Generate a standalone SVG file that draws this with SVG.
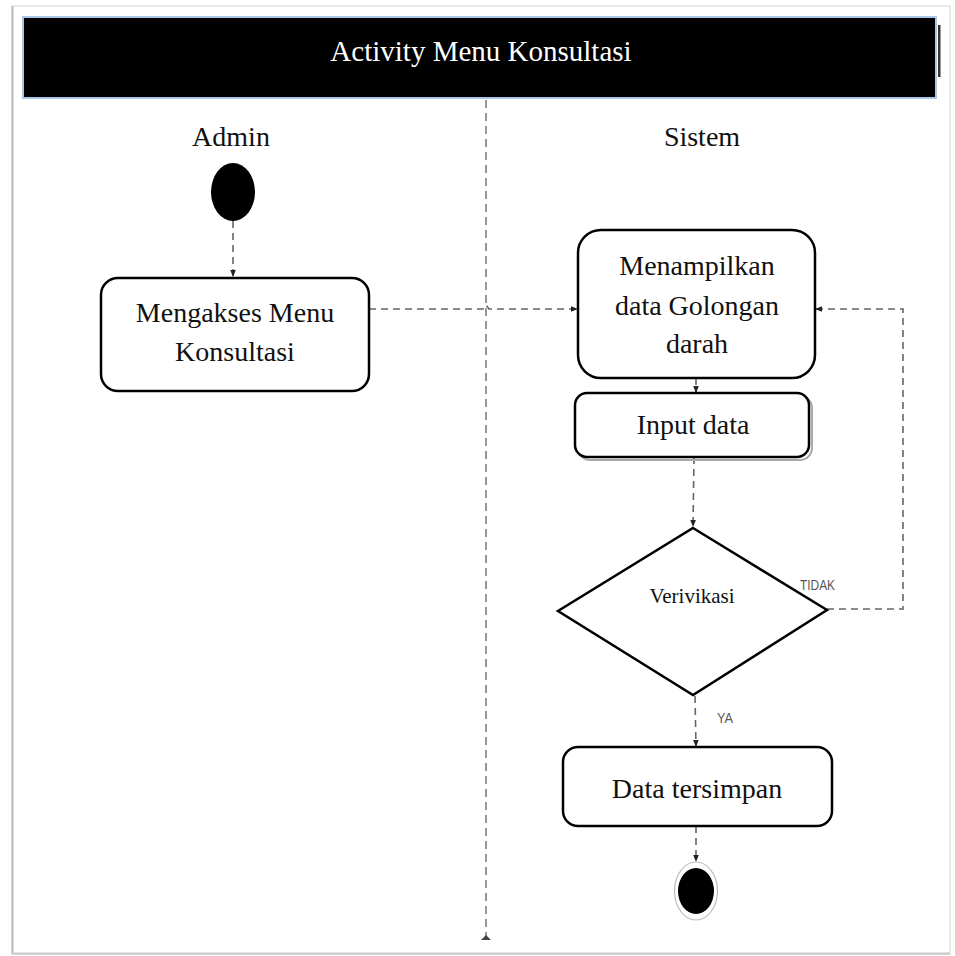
<svg xmlns="http://www.w3.org/2000/svg" width="955" height="956" viewBox="0 0 955 956">
  <style>
    .lbl { font-family: "Liberation Serif", "Times New Roman", serif; fill: #111; text-anchor: middle; }
    .node { fill: #fff; stroke: #000; stroke-width: 2.5; }
    .flow { fill: none; stroke: #666; stroke-width: 1.6; stroke-dasharray: 7 5; }
    .guard { font-family: "Liberation Sans", Arial, sans-serif; font-size: 14px; fill: #555; }
  </style>
  <defs>
    <marker id="arrow" viewBox="0 0 10 10" refX="10" refY="5" markerWidth="7" markerHeight="7" orient="auto" markerUnits="userSpaceOnUse">
      <path d="M0,1 L10,5 L0,9 Z" fill="#222"/>
    </marker>
  </defs>

  <!-- page -->
  <rect x="0" y="0" width="955" height="956" fill="#fff"/>
  <rect x="12" y="6" width="938" height="948" fill="#fff" stroke="#e2e2e2" stroke-width="1.5"/>
  <line x1="12.5" y1="6" x2="12.5" y2="954" stroke="#bdbdbd" stroke-width="2"/>
  <line x1="12" y1="953.5" x2="950" y2="953.5" stroke="#c8c8c8" stroke-width="2"/>

  <!-- header -->
  <g id="header">
    <rect x="23" y="17" width="913" height="81" fill="#000" stroke="#a9c8e8" stroke-width="2"/>
    <rect x="938" y="25" width="2.5" height="52" fill="#333"/>
    <text x="481" y="61" font-family="Liberation Serif, 'Times New Roman', serif" font-size="29" fill="#fff" text-anchor="middle">Activity Menu Konsultasi</text>
  </g>

  <!-- swimlanes -->
  <g id="lanes">
    <line x1="486" y1="100" x2="486" y2="938" stroke="#777" stroke-width="1.5" stroke-dasharray="8 5"/>
    <path d="M481,940 L491,940 L486,935 Z" fill="#444"/>
    <text class="lbl" x="231" y="146" font-size="28">Admin</text>
    <text class="lbl" x="702" y="146" font-size="28">Sistem</text>
  </g>

  <!-- connectors -->
  <g id="connectors">
    <line class="flow" x1="233" y1="221" x2="233" y2="277" marker-end="url(#arrow)"/>
    <path class="flow" d="M369,309 L483,309 L486,305 L489,309 L578,309" marker-end="url(#arrow)"/>
    <line class="flow" x1="696" y1="378" x2="696" y2="393" marker-end="url(#arrow)"/>
    <line class="flow" x1="694" y1="457" x2="693" y2="527" marker-end="url(#arrow)"/>
    <path class="flow" d="M827,609 L903,609 L903,309 L815,309" marker-end="url(#arrow)"/>
    <line class="flow" x1="695" y1="696" x2="696" y2="747" marker-end="url(#arrow)"/>
    <line class="flow" x1="696" y1="826" x2="696" y2="862" marker-end="url(#arrow)"/>
  </g>

  <!-- start -->
  <g id="start">
    <ellipse cx="233" cy="192" rx="22" ry="29" fill="#000"/>
  </g>

  <g id="mengakses">
    <rect class="node" x="101" y="278" width="268" height="113" rx="17"/>
    <text class="lbl" x="235" y="322" font-size="28">Mengakses Menu</text>
    <text class="lbl" x="235" y="361" font-size="28">Konsultasi</text>
  </g>

  <g id="menampilkan">
    <rect class="node" x="578" y="230" width="237" height="148" rx="23"/>
    <text class="lbl" x="697" y="275" font-size="28">Menampilkan</text>
    <text class="lbl" x="697" y="315" font-size="28">data Golongan</text>
    <text class="lbl" x="697" y="353" font-size="28">darah</text>
  </g>

  <g id="input">
    <rect x="578" y="396" width="234" height="64" rx="12" fill="none" stroke="#aaa" stroke-width="2"/>
    <rect class="node" x="575" y="393" width="234" height="64" rx="12"/>
    <text class="lbl" x="693" y="434" font-size="28">Input data</text>
  </g>

  <g id="verivikasi">
    <polygon class="node" points="693,528 827,610 693,695 558,611" stroke-width="2.2"/>
    <text class="lbl" x="692" y="603" font-size="21">Verivikasi</text>
    <text class="guard" x="800" y="590" textLength="35" lengthAdjust="spacingAndGlyphs">TIDAK</text>
    <text class="guard" x="717" y="723" textLength="16" lengthAdjust="spacingAndGlyphs">YA</text>
  </g>

  <g id="tersimpan">
    <rect class="node" x="563" y="747" width="269" height="79" rx="15"/>
    <text class="lbl" x="697" y="798" font-size="28">Data tersimpan</text>
  </g>

  <!-- end -->
  <g id="end">
    <ellipse cx="696" cy="891" rx="21.5" ry="29" fill="#fff" stroke="#bbb" stroke-width="1.2"/>
    <ellipse cx="696" cy="891" rx="18" ry="23" fill="#000"/>
  </g>
</svg>
